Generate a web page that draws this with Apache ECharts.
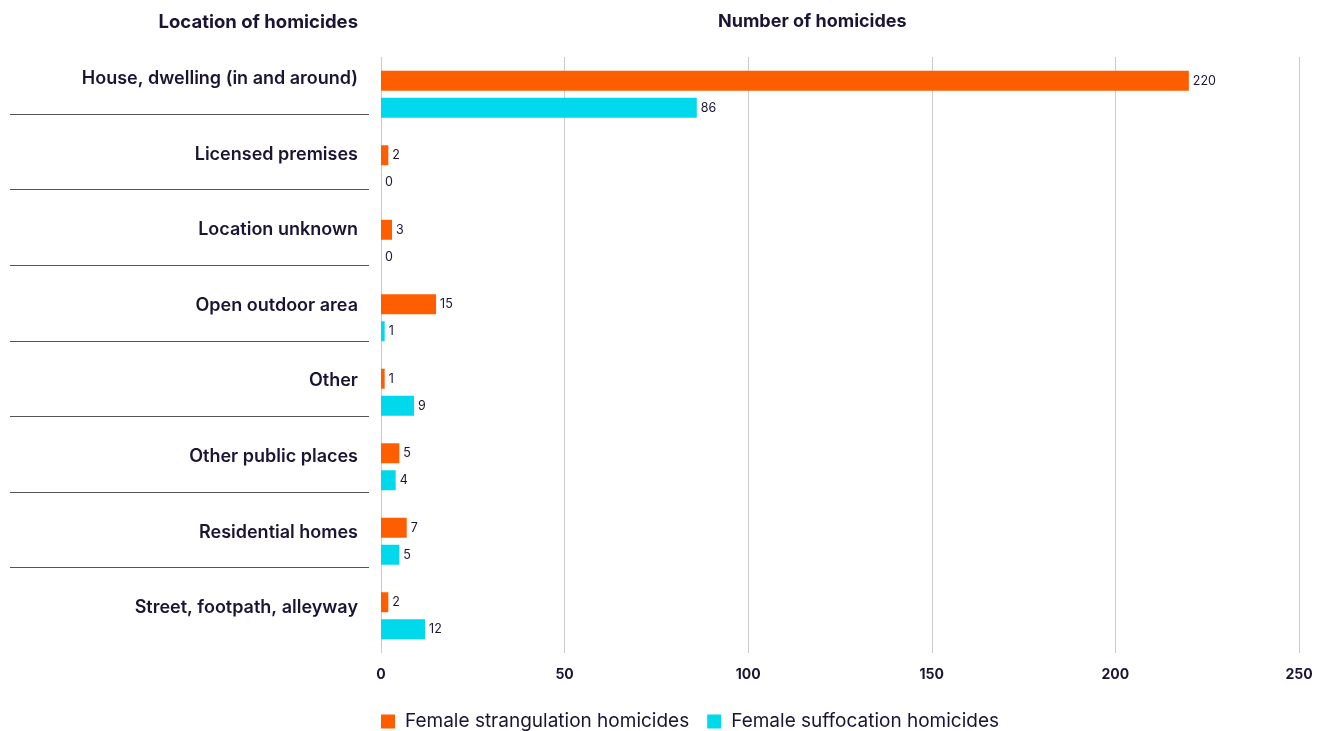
<!DOCTYPE html>
<html><head><meta charset="utf-8">
<script src="https://cdn.jsdelivr.net/npm/echarts@6/dist/echarts.min.js"></script>
<style>html,body{margin:0;padding:0;background:#fff}#c{width:1330px;height:731px}</style>
</head><body><div id="c"></div>
<script>
const categories = ["House, dwelling (in and around)","Licensed premises","Location unknown","Open outdoor area","Other","Other public places","Residential homes","Street, footpath, alleyway"];
const strangulation = [220,2,3,15,1,5,7,2];
const suffocation = [86,0,0,1,9,4,5,12];
const seriesNames = ["Female strangulation homicides","Female suffocation homicides"];
const xTicks = {min:0,max:250,interval:50};

const FONT = 'Inter';
const TXT = '#1c1433';
const chart = echarts.init(document.getElementById('c'));
chart.setOption({
  animation:false,
  textStyle:{fontFamily:FONT},
  title:[
    {text:'Location of homicides', right:967, top:8, textStyle:{fontFamily:FONT,fontSize:18.5,fontWeight:700,color:TXT}},
    {text:'Number of homicides', left:713, top:8, textStyle:{fontFamily:FONT,fontSize:18,fontWeight:700,color:TXT}}
  ],
  legend:{left:376, top:707, icon:'rect', itemWidth:14, itemHeight:14, itemGap:18,
    textStyle:{fontFamily:FONT,fontSize:19,color:TXT,padding:[0,0,0,5]}, data:seriesNames},
  grid:[
    {left:381, right:31, top:57, height:596},
    {left:10, width:359, top:38.5, height:604.5}
  ],
  xAxis:[
    {gridIndex:0,type:'value',min:xTicks.min,max:xTicks.max,interval:xTicks.interval,
     axisLine:{show:false},axisTick:{show:false},
     axisLabel:{fontFamily:FONT,fontSize:14,fontWeight:700,color:TXT,margin:15},
     splitLine:{lineStyle:{color:'#cccccc',width:1}}},
    {gridIndex:1,type:'value',show:false}
  ],
  yAxis:[
    {gridIndex:0,type:'category',data:categories,inverse:true,
     axisLine:{show:false},axisTick:{show:false},axisLabel:{show:false},splitLine:{show:false}},
    {gridIndex:1,type:'category',data:categories,inverse:true,position:'right',
     axisLine:{show:false},axisTick:{show:false},
     axisLabel:{inside:true,margin:11,fontFamily:FONT,fontSize:18,fontWeight:600,color:TXT,verticalAlign:'top',lineHeight:5},
     splitLine:{show:true,showMinLine:false,showMaxLine:false,lineStyle:{color:'#555555',width:1}}}
  ],
  series:[
    {name:seriesNames[0],type:'bar',xAxisIndex:0,yAxisIndex:0,data:strangulation,barWidth:20,barGap:'35%',
     itemStyle:{color:'#ff5e00'},
     label:{show:true,position:'right',distance:4,fontFamily:FONT,fontSize:12.5,color:TXT}},
    {name:seriesNames[1],type:'bar',xAxisIndex:0,yAxisIndex:0,data:suffocation,barWidth:20,barGap:'35%',
     itemStyle:{color:'#00d8eb'},
     label:{show:true,position:'right',distance:4,fontFamily:FONT,fontSize:12.5,color:TXT}}
  ]
});
</script></body></html>
